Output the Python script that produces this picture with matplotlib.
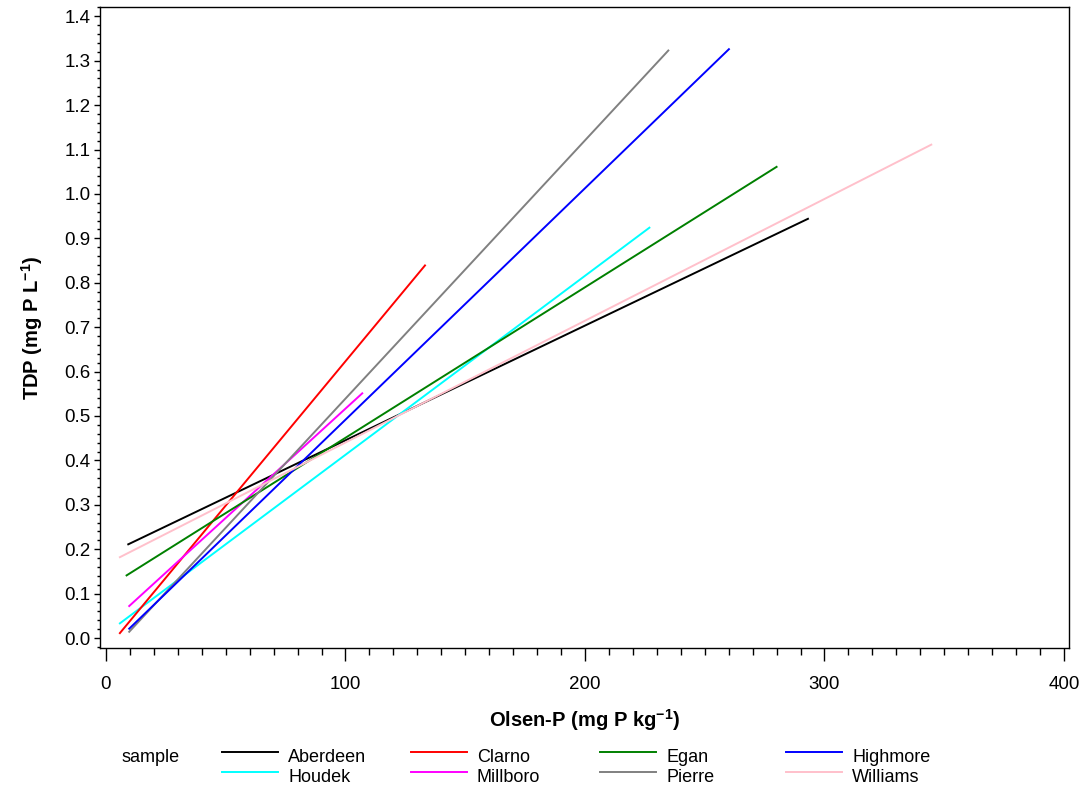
import matplotlib.pyplot as plt
from matplotlib.lines import Line2D
from matplotlib.ticker import MultipleLocator, FormatStrFormatter

# fitted lines per sample (start and end of each line)
samples = ['Aberdeen', 'Houdek', 'Clarno', 'Millboro', 'Egan', 'Pierre', 'Highmore', 'Williams']
colors = ['black', 'cyan', 'red', 'magenta', 'green', 'gray', 'blue', 'pink']
x_start = [9.3, 5.8, 5.8, 9.7, 8.6, 9.7, 9.7, 5.8]
x_end = [293.1, 226.9, 133.2, 107.0, 280.0, 234.8, 260.1, 344.6]
y_start = [0.211, 0.033, 0.011, 0.072, 0.141, 0.014, 0.021, 0.182]
y_end = [0.944, 0.924, 0.839, 0.551, 1.061, 1.323, 1.326, 1.111]

# legend order as in the figure (row by row)
legend_order = ['Aberdeen', 'Clarno', 'Egan', 'Highmore', 'Houdek', 'Millboro', 'Pierre', 'Williams']

plt.rcParams['font.family'] = ['Liberation Sans', 'DejaVu Sans']

W, H = 1082, 786
fig = plt.figure(figsize=(W / 100, H / 100), dpi=100)
ax = fig.add_axes([100 / W, 1 - 648 / H, 969 / W, 641 / H])

for i in range(len(samples)):
    ax.plot([x_start[i], x_end[i]], [y_start[i], y_end[i]], color=colors[i], lw=1.4)

ax.set_xlim(-2.5, 402.1)
ax.set_ylim(-0.0225, 1.421)
ax.xaxis.set_major_locator(MultipleLocator(100))
ax.xaxis.set_minor_locator(MultipleLocator(10))
ax.yaxis.set_major_locator(MultipleLocator(0.1))
ax.yaxis.set_minor_locator(MultipleLocator(0.02))
ax.yaxis.set_major_formatter(FormatStrFormatter('%.1f'))
ax.tick_params(axis='x', which='major', length=9, width=1.0, labelsize=13.5, pad=11)
ax.tick_params(axis='x', which='minor', length=5, width=1.0)
ax.tick_params(axis='y', which='major', length=4, width=1.0, labelsize=13.5, pad=3)
ax.tick_params(axis='y', which='minor', length=2.5, width=1.0)
for s in ax.spines.values():
    s.set_linewidth(1.0)

ax.set_xlabel('Olsen-P (mg P kg$^{\\mathregular{-1}}$)', fontsize=14.5, fontweight='bold', labelpad=10)
ax.set_ylabel('TDP (mg P L$^{\\mathregular{-1}}$)', fontsize=14.5, fontweight='bold', labelpad=14)

# legend below the chart
fig.text(122 / W, 1 - 758 / H, 'sample', fontsize=13, va='center', ha='left')
col_x = [222, 411, 600, 786]
row_y = [752, 772]
for k, name in enumerate(legend_order):
    idx = samples.index(name)
    r, c = k // 4, k % 4
    x0 = col_x[c]
    y0 = row_y[r]
    fig.add_artist(Line2D([x0 / W, (x0 + 56) / W], [1 - y0 / H, 1 - y0 / H],
                          color=colors[idx], lw=1.4, transform=fig.transFigure))
    fig.text((x0 + 66) / W, 1 - (y0 + 5) / H, name, fontsize=13, va='center', ha='left')

fig.savefig('out.png', dpi=100)
